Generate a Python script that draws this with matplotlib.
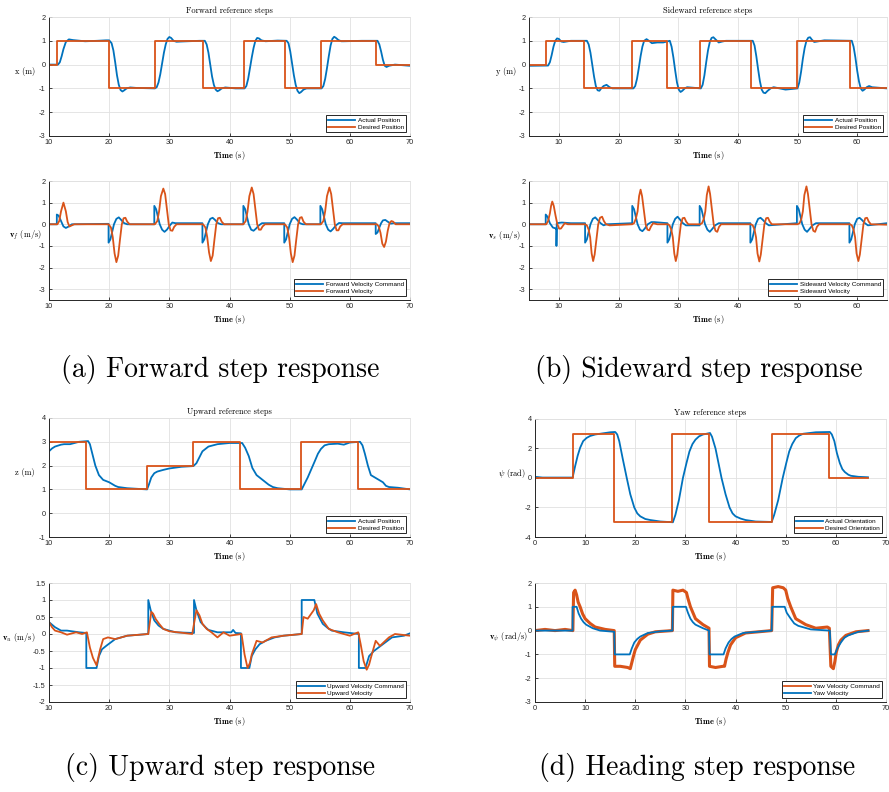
import matplotlib
matplotlib.use("Agg")
import matplotlib.pyplot as plt
from matplotlib.lines import Line2D
import numpy as np

plt.rcParams['mathtext.fontset'] = 'cm'
plt.rcParams['axes.unicode_minus'] = False
plt.rcParams['font.family'] = ['Liberation Sans', 'DejaVu Sans']

BLUE = '#0072BD'
ORANGE = '#D95319'

# ---------------- (a) Forward ----------------
a_des_t = [10, 11.3, 11.3, 19.9, 19.9, 27.6, 27.6, 35.6, 35.6, 42.4, 42.4, 49.2, 49.2, 55.2, 55.2, 64.4, 64.4, 70]
a_des_x = [0, 0, 1, 1, -1, -1, 1, 1, -1, -1, 1, 1, -1, -1, 1, 1, 0, 0]
a_act_t = [10, 11.5, 11.8, 12.1, 12.4, 12.8, 13.3, 14, 16, 18, 19.5, 20.0, 20.4, 20.7, 21.0, 21.3, 21.6, 21.9, 22.2, 22.5, 22.9, 23.5, 24.5, 27.6,
           27.9, 28.2, 28.5, 28.8, 29.1, 29.4, 29.7, 30.0, 30.3, 30.7, 31.2, 32, 35, 35.9, 36.2, 36.5, 36.8, 37.1, 37.4, 37.7, 38.0, 38.3, 38.7, 39.3, 41,
           42.5, 42.8, 43.1, 43.4, 43.7, 44.0, 44.3, 44.6, 44.9, 45.3, 46, 48, 49.5, 49.8, 50.1, 50.4, 50.7, 51.0, 51.3, 51.6, 51.9, 52.3, 52.8, 53.5,
           55.3, 55.6, 55.9, 56.2, 56.5, 56.8, 57.1, 57.4, 57.7, 58.1, 58.6, 59, 62, 64.6, 64.9, 65.2, 65.5, 65.8, 66.1, 66.5, 67.5, 70]
a_act_x = [0, 0, 0.1, 0.35, 0.65, 0.95, 1.06, 1.03, 0.98, 1.0, 1.02, 1.02, 0.9, 0.6, 0.1, -0.45, -0.85, -1.07, -1.13, -1.08, -1.0, -0.96, -0.98, -1.0,
           -0.95, -0.75, -0.4, 0.05, 0.5, 0.85, 1.08, 1.16, 1.12, 1.0, 0.96, 0.97, 1.0, 1.0, 0.85, 0.5, 0.0, -0.5, -0.85, -1.05, -1.12, -1.08, -1.0, -0.96, -1.0,
           -1.0, -0.9, -0.6, -0.15, 0.3, 0.7, 1.0, 1.12, 1.1, 1.02, 0.98, 1.01, 1.0, 0.9, 0.55, 0.05, -0.45, -0.85, -1.1, -1.2, -1.15, -1.05, -1.0, -1.0,
           -1.0, -0.9, -0.6, -0.15, 0.35, 0.8, 1.08, 1.17, 1.12, 1.03, 0.98, 0.98, 1.0, 1.0, 0.85, 0.55, 0.2, -0.05, -0.1, -0.05, 0.0, -0.05]

a_cmd_t = [10, 11.3, 11.3, 11.6, 12.0, 12.4, 12.8, 13.3, 13.8, 19.9,
           19.9, 20.2, 20.5, 20.8, 21.2, 21.6, 22.0, 22.5, 23.0, 27.5,
           27.5, 27.8, 28.1, 28.4, 28.8, 29.2, 29.6, 30.1, 30.5, 31.0, 35.5,
           35.5, 35.8, 36.1, 36.4, 36.8, 37.2, 37.6, 38.1, 38.6, 42.3,
           42.3, 42.6, 42.9, 43.2, 43.6, 44.0, 44.4, 44.9, 45.4, 46.0, 49.1,
           49.1, 49.4, 49.7, 50.0, 50.4, 50.8, 51.2, 51.7, 52.2, 55.1,
           55.1, 55.4, 55.7, 56.0, 56.4, 56.8, 57.2, 57.7, 58.2, 58.8, 64.3,
           64.3, 64.6, 64.9, 65.2, 65.5, 65.9, 66.3, 66.8, 67.3, 70]
a_cmd_v = [0, 0, 0.45, 0.4, 0.15, -0.1, -0.17, -0.1, 0.0, 0.02,
           -0.85, -0.7, -0.35, 0.0, 0.25, 0.32, 0.2, 0.05, 0.0, 0.0,
           0.85, 0.7, 0.35, 0.0, -0.25, -0.35, -0.25, -0.05, 0.08, 0.05, 0.05,
           -0.85, -0.7, -0.35, 0.0, 0.25, 0.3, 0.2, 0.05, 0.0, 0.0,
           0.85, 0.7, 0.35, 0.0, -0.25, -0.3, -0.2, -0.05, 0.05, 0.05, 0.05,
           -0.85, -0.7, -0.35, 0.0, 0.25, 0.33, 0.22, 0.05, 0.0, 0.0,
           0.85, 0.7, 0.35, 0.0, -0.25, -0.33, -0.22, -0.05, 0.06, 0.05, 0.05,
           -0.45, -0.38, -0.15, 0.05, 0.18, 0.2, 0.12, 0.03, 0.05, 0.05]
a_vel_t = [10, 11.4, 11.7, 12.0, 12.4, 12.8, 13.1, 13.4, 13.8, 14.2, 19.9,
           20.3, 20.6, 20.9, 21.2, 21.5, 21.8, 22.1, 22.4, 22.7, 23.0, 23.4, 27.6,
           28.0, 28.3, 28.6, 29.0, 29.3, 29.6, 29.9, 30.2, 30.5, 30.8, 31.2, 35.6,
           36.0, 36.3, 36.6, 36.9, 37.2, 37.5, 37.8, 38.1, 38.4, 38.7, 39.1, 42.3,
           42.7, 43.0, 43.3, 43.7, 44.0, 44.3, 44.6, 44.9, 45.2, 45.5, 45.9, 49.2,
           49.6, 49.9, 50.2, 50.5, 50.8, 51.1, 51.4, 51.7, 52.0, 52.3, 52.7, 55.2,
           55.6, 55.9, 56.2, 56.6, 56.9, 57.2, 57.5, 57.8, 58.1, 58.4, 58.8, 64.5,
           64.8, 65.1, 65.4, 65.7, 66.0, 66.3, 66.6, 66.9, 67.2, 67.6, 70]
a_vel_v = [0, 0, 0.15, 0.6, 1.0, 0.6, 0.1, -0.1, -0.05, 0.0, 0.0,
           -0.15, -0.6, -1.35, -1.75, -1.45, -0.7, 0.0, 0.28, 0.3, 0.12, 0.0, 0.0,
           0.15, 0.6, 1.3, 1.65, 1.4, 0.7, 0.0, -0.28, -0.3, -0.12, 0.0, 0.0,
           -0.15, -0.6, -1.3, -1.7, -1.45, -0.7, 0.0, 0.28, 0.3, 0.12, 0.0, 0.0,
           0.15, 0.6, 1.3, 1.7, 1.4, 0.7, 0.0, -0.25, -0.25, -0.1, 0.0, 0.0,
           -0.15, -0.6, -1.35, -1.75, -1.45, -0.7, 0.0, 0.3, 0.33, 0.12, 0.0, 0.0,
           0.15, 0.6, 1.3, 1.7, 1.4, 0.7, 0.0, -0.28, -0.28, -0.1, 0.0, 0.0,
           -0.1, -0.4, -0.9, -1.05, -0.8, -0.3, 0.05, 0.15, 0.12, 0.0, 0.0]

# ---------------- (b) Sideward ----------------
b_des_t = [5, 7.8, 7.8, 14.3, 14.3, 22.3, 22.3, 28.2, 28.2, 33.6, 33.6, 42.2, 42.2, 49.9, 49.9, 58.8, 58.8, 65]
b_des_y = [0, 0, 1, 1, -1, -1, 1, 1, -1, -1, 1, 1, -1, -1, 1, 1, -1, -1]
b_act_t = [5, 8.2, 8.5, 8.8, 9.1, 9.4, 9.7, 10.0, 10.4, 10.8, 12, 14.7, 15.0, 15.3, 15.6, 15.9, 16.2, 16.5, 16.8, 17.1, 17.5, 18.0, 18.5, 19, 22.5,
           22.8, 23.1, 23.4, 23.7, 24.0, 24.3, 24.7, 25.1, 25.6, 26.5, 27.5, 28.6, 28.9, 29.2, 29.5, 29.8, 30.1, 30.4, 30.7, 31.1, 31.5, 33.8,
           34.1, 34.4, 34.7, 35.0, 35.3, 35.6, 35.9, 36.3, 36.8, 37.4, 38, 42.5, 42.8, 43.1, 43.4, 43.7, 44.0, 44.3, 44.6, 45.0, 45.5, 46, 48,
           50.0, 50.3, 50.6, 50.9, 51.2, 51.5, 51.8, 52.1, 52.4, 52.8, 53.3, 54.5, 59.1, 59.4, 59.7, 60.0, 60.3, 60.6, 60.9, 61.2, 61.6, 62.0, 62.5, 65]
b_act_y = [-0.05, -0.04, 0.1, 0.4, 0.75, 1.0, 1.1, 1.08, 0.97, 0.95, 1.0, 1.0, 0.85, 0.5, 0.0, -0.5, -0.9, -1.08, -1.1, -1.0, -0.9, -0.85, -0.95, -1.0, -1.0,
           -0.9, -0.6, -0.15, 0.35, 0.75, 1.0, 1.07, 1.0, 0.9, 0.93, 0.93, 1.0, 0.75, 0.3, -0.25, -0.75, -1.05, -1.15, -1.1, -1.0, -0.95, -1.0,
           -0.85, -0.45, 0.1, 0.6, 0.95, 1.12, 1.15, 1.05, 0.93, 0.97, 1.0, 1.0, 0.8, 0.35, -0.2, -0.7, -1.05, -1.18, -1.2, -1.1, -1.0, -0.95, -1.05,
           -1.0, -0.75, -0.3, 0.25, 0.7, 1.0, 1.13, 1.15, 1.05, 0.95, 0.97, 1.02, 1.0, 0.75, 0.3, -0.25, -0.7, -1.0, -1.1, -1.05, -0.95, -0.9, -0.95, -1.0]

b_cmd_t = [5, 7.8, 7.8, 8.1, 8.5, 9.0, 9.55, 9.6, 9.6, 9.65, 10.5, 12, 14.4,
           14.4, 14.7, 15.0, 15.3, 15.7, 16.1, 16.5, 17.0, 17.5, 18, 22.3,
           22.3, 22.6, 22.9, 23.2, 23.6, 24.0, 24.4, 24.9, 25.5, 26, 28.2,
           28.2, 28.5, 28.8, 29.1, 29.5, 29.9, 30.3, 30.8, 31.3, 33.6,
           33.6, 33.9, 34.2, 34.5, 34.9, 35.3, 35.7, 36.2, 36.8, 42.1,
           42.1, 42.4, 42.7, 43.0, 43.4, 43.8, 44.2, 44.7, 45.2, 49.9,
           49.9, 50.2, 50.5, 50.8, 51.2, 51.6, 52.0, 52.5, 53.1, 58.7,
           58.7, 59.0, 59.3, 59.6, 60.0, 60.4, 60.8, 61.3, 61.8, 65]
b_cmd_v = [0, 0, 0.45, 0.35, 0.05, -0.15, -0.2, -0.2, -1.0, 0.05, 0.08, 0.05, 0.05,
           -0.85, -0.7, -0.35, 0.0, 0.25, 0.32, 0.2, 0.05, -0.05, 0.0, 0.05,
           0.85, 0.7, 0.35, 0.0, -0.25, -0.32, -0.2, 0.0, 0.1, 0.1, 0.05,
           -0.85, -0.7, -0.35, 0.0, 0.25, 0.35, 0.22, 0.05, -0.05, -0.05,
           0.85, 0.7, 0.35, 0.0, -0.25, -0.35, -0.22, -0.05, 0.05, 0.05,
           -0.85, -0.7, -0.35, 0.0, 0.25, 0.3, 0.2, 0.05, -0.05, 0.05,
           0.85, 0.7, 0.35, 0.0, -0.25, -0.35, -0.22, -0.05, 0.05, 0.05,
           -0.85, -0.7, -0.35, 0.0, 0.25, 0.3, 0.2, 0.05, -0.05, 0.05]
b_vel_t = [5, 7.9, 8.2, 8.5, 8.7, 8.9, 9.15, 9.45, 9.75, 10.05, 10.35, 10.65, 11.0, 11.5, 14.4,
           14.7, 15.0, 15.25, 15.5, 15.75, 16.0, 16.3, 16.6, 16.9, 17.25, 17.55, 17.9, 18.5, 22.3,
           22.6, 22.9, 23.2, 23.45, 23.7, 23.95, 24.25, 24.55, 24.85, 25.15, 25.45, 25.8, 26.5, 28.3,
           28.55, 28.85, 29.1, 29.35, 29.6, 29.85, 30.15, 30.45, 30.75, 31.05, 31.35, 31.7, 33.7,
           34.0, 34.3, 34.55, 34.8, 35.1, 35.35, 35.65, 35.95, 36.25, 36.55, 36.85, 37.2, 42.2,
           42.5, 42.8, 43.05, 43.3, 43.6, 43.85, 44.15, 44.45, 44.75, 45.05, 45.35, 45.7, 50.0,
           50.35, 50.65, 50.9, 51.15, 51.5, 51.75, 52.05, 52.35, 52.65, 52.95, 53.25, 53.6, 58.8,
           59.1, 59.4, 59.65, 59.9, 60.2, 60.45, 60.75, 61.05, 61.35, 61.65, 61.95, 62.3, 65]
b_vel_v = [0, 0, 0.15, 0.5, 0.85, 1.05, 0.85, 0.4, 0.0, -0.2, -0.2, -0.08, 0.05, 0.0, 0.0,
           -0.05, -0.25, -0.6, -1.35, -1.7, -1.4, -0.7, 0.0, 0.3, 0.35, 0.15, 0.0, -0.05, 0.0,
           0.05, 0.25, 0.6, 1.3, 1.6, 1.3, 0.65, 0.0, -0.25, -0.28, -0.1, 0.05, 0.0, 0.0,
           -0.05, -0.25, -0.6, -1.35, -1.7, -1.4, -0.7, 0.0, 0.28, 0.3, 0.12, 0.0, 0.0,
           0.05, 0.25, 0.6, 1.35, 1.75, 1.4, 0.7, 0.0, -0.3, -0.35, -0.12, 0.0, 0.0,
           -0.05, -0.25, -0.6, -1.35, -1.72, -1.4, -0.7, 0.0, 0.28, 0.3, 0.12, 0.0, 0.0,
           0.05, 0.25, 0.6, 1.35, 1.75, 1.4, 0.7, 0.0, -0.3, -0.35, -0.12, 0.0, 0.0,
           -0.05, -0.25, -0.6, -1.35, -1.7, -1.4, -0.7, 0.0, 0.28, 0.3, 0.12, 0.0, -0.02]

# ---------------- (c) Upward ----------------
c_des_t = [10, 16.2, 16.2, 26.3, 26.3, 33.9, 33.9, 41.8, 41.8, 51.9, 51.9, 61.4, 61.4, 70]
c_des_z = [3, 3, 1, 1, 2, 2, 3, 3, 1, 1, 3, 3, 1, 1]
c_act_t = [10, 10.5, 11, 12, 12.5, 13.5, 15, 16.5, 16.8, 17.2, 17.7, 18.3, 19, 20, 21, 21.5, 23, 26.3, 26.6, 27, 27.5, 28, 29, 30, 32, 34, 34.5, 35.0, 35.5, 36.5,
           38, 40, 42.1, 42.6, 43.2, 43.8, 44.5, 45.5, 46.5, 47.2, 48, 50, 52, 52.5, 53, 53.6, 54.2, 54.7, 55.2, 55.8, 56.5, 58, 59, 60, 61.7,
           62.1, 62.5, 63.0, 63.5, 64.5, 65.5, 66, 66.5, 68, 70]
c_act_z = [2.6, 2.72, 2.8, 2.88, 2.9, 2.9, 3.0, 3.03, 2.9, 2.5, 2.0, 1.6, 1.4, 1.3, 1.15, 1.1, 1.05, 1.0, 1.2, 1.5, 1.68, 1.75, 1.82, 1.88, 1.95, 1.98, 2.1, 2.35, 2.6, 2.8,
           2.9, 2.95, 2.95, 2.75, 2.4, 1.9, 1.6, 1.4, 1.2, 1.1, 1.05, 1.0, 1.0, 1.25, 1.5, 1.85, 2.2, 2.5, 2.7, 2.85, 2.9, 2.92, 2.88, 2.97, 3.0,
           2.85, 2.5, 2.0, 1.6, 1.45, 1.3, 1.15, 1.1, 1.07, 1.0]

c_cmd_t = [10, 11, 12, 13, 15, 16.2, 16.2, 17.9, 18.3, 18.8, 19.5, 21, 23, 26.5, 26.5, 26.9, 27.5, 28.2, 29, 31, 34.1, 34.1, 34.5, 35.2, 36.0, 36.5, 38, 40.3, 40.6, 41.0, 41.9,
           41.9, 43.3, 43.7, 44.3, 45, 46, 47.5, 49, 52.0, 52.0, 54.1, 54.6, 55.5, 56.3, 57, 59, 61.5, 61.5, 62.6, 63.2, 64, 65.5, 67, 69, 70]
c_cmd_v = [0.35, 0.2, 0.1, 0.1, 0.05, 0.03, -1.0, -1.0, -0.65, -0.45, -0.35, -0.15, -0.05, 0.0, 1.0, 0.7, 0.4, 0.25, 0.15, 0.05, 0.03, 1.0, 0.7, 0.35, 0.2, 0.12, 0.05, 0.05, 0.12, 0.03, 0.02,
           -1.0, -1.0, -0.65, -0.45, -0.3, -0.2, -0.1, -0.05, 0.0, 1.0, 1.0, 0.6, 0.3, 0.18, 0.1, 0.05, 0.0, -1.0, -1.0, -0.65, -0.5, -0.3, -0.1, -0.05, 0.02]
c_vel_t = [10, 10.5, 11, 12, 13, 14.5, 15.5, 16.3, 16.8, 17.3, 17.9, 18.5, 19, 19.8, 21, 23, 26.5, 27.0, 27.3, 27.7, 28.3, 29, 30, 33.8, 34.5, 35.0, 35.5, 36.2, 37, 38, 39, 40,
           42.0, 42.5, 43.0, 43.4, 43.7, 44.5, 45.5, 47, 49, 52, 52.3, 53, 53.6, 54, 54.4, 54.9, 55.5, 56.5, 58, 60,
           61.4, 61.8, 62.3, 62.8, 63.2, 63.5, 64.3, 65, 66.5, 67.5, 70]
c_vel_v = [0.35, 0.2, 0.1, 0.05, -0.02, 0.05, 0.0, 0.05, -0.4, -0.7, -0.92, -0.45, -0.15, -0.1, -0.15, -0.05, 0.0, 0.65, 0.6, 0.45, 0.3, 0.15, 0.08, 0.0, 0.7, 0.55, 0.3, 0.15, 0.05, -0.1, 0.05, -0.05,
           0.0, -0.6, -1.0, -0.85, -0.6, -0.2, -0.25, -0.1, -0.05, 0.0, 0.5, 0.45, 0.6, 0.7, 0.88, 0.6, 0.4, 0.15, 0.05, -0.05,
           0.05, -0.3, -0.8, -1.05, -0.9, -0.7, -0.2, -0.35, -0.1, 0.0, -0.05]

# ---------------- (d) Heading ----------------
d_des_t = [0, 7.55, 7.55, 15.7, 15.7, 27.4, 27.4, 34.7, 34.7, 47.2, 47.2, 58.7, 58.7, 66.4]
d_des_psi = [0, 0, 3, 3, -3, -3, 3, 3, -3, -3, 3, 3, 0, 0]
d_act_t = [0, 1.5, 7.5, 8.0, 8.5, 9.0, 9.6, 10.3, 11, 12, 13, 15, 16.0, 16.4, 16.8, 17.5, 18.3, 19.0, 19.8, 20.4, 21, 22, 23, 25, 27.5, 28.0, 28.7, 29.5, 30.2, 30.8,
           31.4, 32, 32.7, 33.5, 34.9, 35.3, 36, 37.2, 38.0, 38.8, 39.4, 40, 41, 42, 44, 47.2, 47.7, 48.5, 49.4, 50.1, 50.7, 51.3, 52, 52.7, 53.5, 56, 58.8,
           59.2, 59.7, 60.2, 60.8, 61.3, 61.8, 62.5, 63, 64.5, 66.4]
d_act_psi = [0.08, 0.03, 0.03, 0.8, 1.5, 2.05, 2.5, 2.72, 2.85, 2.95, 3.0, 3.1, 3.12, 2.95, 2.5, 1.3, 0.0, -1.1, -2.0, -2.4, -2.6, -2.78, -2.85, -2.95, -3.0, -2.5, -1.5, 0.0, 1.0, 1.8,
           2.3, 2.6, 2.82, 2.95, 3.05, 2.8, 2.0, 0.0, -1.1, -2.0, -2.4, -2.6, -2.75, -2.85, -2.95, -2.98, -2.5, -1.5, 0.0, 1.0, 1.8, 2.3, 2.7, 2.88, 3.0, 3.1, 3.12,
           2.95, 2.5, 1.7, 1.0, 0.6, 0.4, 0.22, 0.15, 0.08, 0.05]

d_cmd_t = [0, 2, 4, 6, 7.55, 7.7, 8.0, 8.3, 8.6, 9.0, 9.5, 10, 11, 12, 14, 15.8, 15.9, 17, 18.5, 19.0, 19.3, 19.6, 20, 20.5, 21, 22.5, 24, 27.4, 27.5, 28.5, 29.5, 30.2, 30.5, 31, 31.5, 32, 33.5, 34.7,
           34.8, 36, 37.5, 37.8, 38.1, 38.5, 39, 40, 42, 47.2, 47.4, 48.5, 49.5, 50.0, 50.4, 51, 51.5, 52, 54, 56, 58.3, 58.7, 59.0, 59.5, 59.8, 60.1, 60.5, 61, 62, 64, 66.4]
d_cmd_v = [0.0, 0.05, 0.0, 0.05, 0.0, 1.6, 1.7, 1.5, 1.2, 1.0, 0.7, 0.5, 0.3, 0.15, 0.05, 0.0, -1.5, -1.5, -1.55, -1.6, -1.35, -1.1, -0.8, -0.6, -0.4, -0.15, -0.05, 0.0, 1.7, 1.65, 1.7, 1.6, 1.35, 1.0, 0.75, 0.5, 0.25, 0.1,
           -1.5, -1.55, -1.5, -1.5, -1.2, -0.9, -0.6, -0.3, -0.1, 0.0, 1.8, 1.85, 1.8, 1.7, 1.35, 1.0, 0.75, 0.5, 0.25, 0.1, 0.15, 0.1, -1.5, -1.6, -1.3, -0.9, -0.6, -0.4, -0.2, -0.05, 0.0]
d_yaw_t = [0, 7.5, 7.5, 8.3, 8.7, 9.2, 9.7, 10.2, 11.5, 13, 15.8, 15.9, 18.9, 19.3, 19.8, 20.4, 21, 22.5, 25, 27.4, 27.5, 30.1, 30.5, 31, 31.5, 32, 33.5, 34.7,
           34.8, 37.6, 38.0, 38.6, 39.2, 39.8, 41.5, 47.2, 47.3, 49.8, 50.2, 51, 51.7, 52.5, 55, 58.8, 59.0, 59.8, 60.3, 61, 61.7, 62.5, 64.5, 66.5]
d_yaw_v = [0, 0, 1.0, 1.0, 0.72, 0.5, 0.35, 0.25, 0.1, 0.0, -0.05, -1.0, -1.0, -0.75, -0.5, -0.35, -0.25, -0.1, -0.03, 0.0, 1.0, 1.0, 0.75, 0.5, 0.35, 0.25, 0.1, 0.0,
           -1.0, -1.0, -0.75, -0.5, -0.35, -0.25, -0.1, 0.0, 1.0, 1.0, 0.75, 0.5, 0.3, 0.2, 0.05, 0.0, -1.0, -1.0, -0.75, -0.5, -0.3, -0.2, -0.05, 0.0]

captions = ['(a) Forward step response', '(b) Sideward step response',
            '(c) Upward step response', '(d) Heading step response']

W, H = 889, 792
fig = plt.figure(figsize=(W / 100, H / 100), dpi=100)

def add_ax(l, r, t, b):
    return fig.add_axes([l / W, 1 - b / H, (r - l) / W, (b - t) / H])

SERIF = 'cmr10'
TICK_FS = 5.3
LAB_FS = 6.0

def style(ax, xlim, ylim, xticks, yticks, ylabel, labx, title=None):
    ax.set_xlim(*xlim)
    ax.set_ylim(*ylim)
    ax.set_xticks(xticks)
    ax.set_yticks(yticks)
    ax.set_xticklabels([f'{v:g}' for v in xticks])
    ax.set_yticklabels([f'{v:g}' for v in yticks])
    ax.grid(True, color='#e1e1e1', linewidth=0.6)
    ax.set_axisbelow(True)
    for s in ['top', 'right']:
        ax.spines[s].set_color('#e1e1e1')
        ax.spines[s].set_linewidth(0.6)
    for s in ['left', 'bottom']:
        ax.spines[s].set_color('#262626')
        ax.spines[s].set_linewidth(0.7)
    ax.tick_params(direction='in', length=2.5, width=0.6, labelsize=TICK_FS,
                   colors='#262626', pad=2.5)
    ax.set_xlabel(r'$\mathbf{Time}$ (s)', fontsize=LAB_FS, family=SERIF, labelpad=1.5)
    ax.set_ylabel(ylabel, fontsize=LAB_FS, family=SERIF, rotation=0, ha='center', va='center')
    ax.yaxis.set_label_coords(labx, 0.54)
    if title:
        ax.set_title(title, fontsize=LAB_FS, family=SERIF, pad=3)

def legend(ax, handles, labels):
    lg = ax.legend(handles, labels, loc='lower right', fontsize=4.6, frameon=True,
                   fancybox=False, edgecolor='#262626', framealpha=1,
                   borderaxespad=0.6, handlelength=4.2, handletextpad=0.4,
                   borderpad=0.35, labelspacing=0.25)
    lg.get_frame().set_linewidth(0.7)

LW = 1.3

# (a)
ax = add_ax(49, 410, 17, 136)
h1, = ax.plot(a_act_t, a_act_x, color=BLUE, lw=LW)
h2, = ax.plot(a_des_t, a_des_x, color=ORANGE, lw=LW)
style(ax, (10, 70), (-3, 2), range(10, 71, 10), range(-3, 3), 'x (m)', -0.066, 'Forward reference steps')
legend(ax, [h1, h2], ['Actual Position', 'Desired Position'])

ax = add_ax(49, 410, 181, 300)
h1, = ax.plot(a_cmd_t, a_cmd_v, color=BLUE, lw=LW)
h2, = ax.plot(a_vel_t, a_vel_v, color=ORANGE, lw=LW)
style(ax, (10, 70), (-3.5, 2), range(10, 71, 10), range(-3, 3), r'$\mathbf{v}_f$ (m/s)', -0.066)
legend(ax, [h1, h2], ['Forward Velocity Command', 'Forward Velocity'])

# (b)
ax = add_ax(529, 887, 17, 136)
h1, = ax.plot(b_act_t, b_act_y, color=BLUE, lw=LW)
h2, = ax.plot(b_des_t, b_des_y, color=ORANGE, lw=LW)
style(ax, (5, 65), (-3, 2), range(10, 61, 10), range(-3, 3), 'y (m)', -0.064, 'Sideward reference steps')
legend(ax, [h1, h2], ['Actual Position', 'Desired Position'])

ax = add_ax(529, 887, 181, 300)
h1, = ax.plot(b_cmd_t, b_cmd_v, color=BLUE, lw=LW)
h2, = ax.plot(b_vel_t, b_vel_v, color=ORANGE, lw=LW)
style(ax, (5, 65), (-3.5, 2), range(10, 61, 10), range(-3, 3), r'$\mathbf{v}_s$ (m/s)', -0.07)
legend(ax, [h1, h2], ['Sideward Velocity Command', 'Sideward Velocity'])

# (c)
ax = add_ax(49, 410, 418, 537)
h1, = ax.plot(c_act_t, c_act_z, color=BLUE, lw=LW)
h2, = ax.plot(c_des_t, c_des_z, color=ORANGE, lw=LW)
style(ax, (10, 70), (-1, 4), range(10, 71, 10), range(-1, 5), 'z (m)', -0.066, 'Upward reference steps')
legend(ax, [h1, h2], ['Actual Position', 'Desired Position'])

ax = add_ax(49, 410, 583, 702)
h1, = ax.plot(c_cmd_t, c_cmd_v, color=BLUE, lw=LW)
h2, = ax.plot(c_vel_t, c_vel_v, color=ORANGE, lw=LW)
style(ax, (10, 70), (-2, 1.5), range(10, 71, 10), np.arange(-2, 1.51, 0.5), r'$\mathbf{v}_u$ (m/s)', -0.085)
legend(ax, [h1, h2], ['Upward Velocity Command', 'Upward Velocity'])

# (d)
ax = add_ax(535, 886, 419, 537)
h1, = ax.plot(d_act_t, d_act_psi, color=BLUE, lw=LW)
h2, = ax.plot(d_des_t, d_des_psi, color=ORANGE, lw=LW)
style(ax, (0, 70), (-4, 4), range(0, 71, 10), range(-4, 5, 2), r'$\psi$ (rad)', -0.065, 'Yaw reference steps')
legend(ax, [h1, h2], ['Actual Orientation', 'Desired Orientation'])

ax = add_ax(535, 886, 583, 702)
ax.plot(d_cmd_t, d_cmd_v, color=ORANGE, lw=2.2)
h1, = ax.plot(d_yaw_t, d_yaw_v, color=BLUE, lw=LW)
h2 = Line2D([], [], color=ORANGE, lw=LW)
style(ax, (0, 70), (-3, 2), range(0, 71, 10), range(-3, 3), r'$\mathbf{v}_\psi$ (rad/s)', -0.075)
legend(ax, [h2, h1], ['Yaw Velocity Command', 'Yaw Velocity'])

cap_pos = [(220, 370), (699, 370), (220, 768), (697, 768)]
for (cx, cy), txt in zip(cap_pos, captions):
    fig.text(cx / W, 1 - cy / H, txt, fontsize=20, family=SERIF, ha='center', va='center')

fig.savefig('out.png', dpi=100)
